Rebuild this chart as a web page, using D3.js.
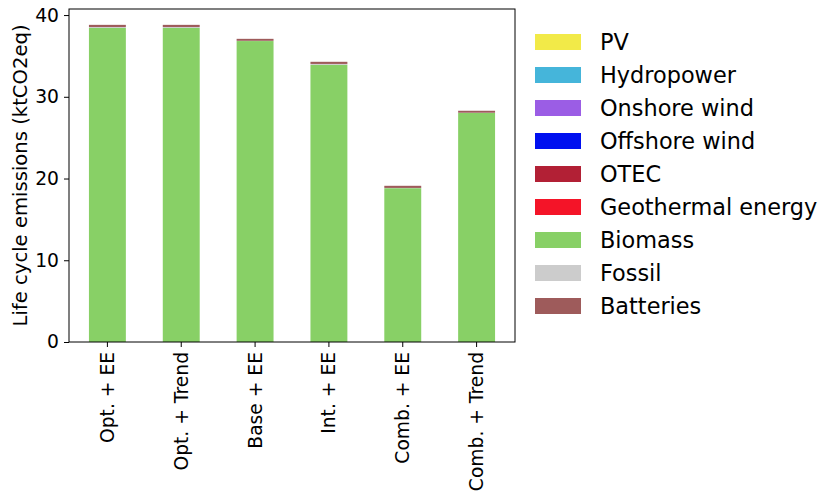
<!DOCTYPE html>
<html lang="en">
<head>
<meta charset="UTF-8">
<script src="https://cdn.jsdelivr.net/npm/d3@7"></script>
<style>
  body { margin: 0; background: #fff; }
  text { font-family: "DejaVu Sans", sans-serif; fill: #000; }
</style>
</head>
<body>
<script>
// scenarios on the x axis
var scenarios = ["Opt. + EE", "Opt. + Trend", "Base + EE", "Int. + EE", "Comb. + EE", "Comb. + Trend"];

// emissions per source, ktCO2eq (stacked bottom to top in this order)
var pv         = [0, 0, 0, 0, 0, 0];
var hydropower = [0, 0, 0, 0, 0, 0];
var onshore    = [0, 0, 0, 0, 0, 0];
var offshore   = [0, 0, 0, 0, 0, 0];
var otec       = [0, 0, 0, 0, 0, 0];
var geothermal = [0, 0, 0, 0, 0, 0];
var biomass    = [38.42, 38.42, 36.82, 33.9, 18.82, 28.02];
var fossil     = [0.12, 0.12, 0.03, 0.12, 0.03, 0.03];
var batteries  = [0.26, 0.26, 0.24, 0.26, 0.26, 0.24];

var sources = ["PV", "Hydropower", "Onshore wind", "Offshore wind", "OTEC", "Geothermal energy", "Biomass", "Fossil", "Batteries"];
var colors = ["#f2ea48", "#45b5da", "#9b5de5", "#0010f0", "#b22035", "#f41428", "#88d066", "#cccccc", "#9e5b5b"];
var seriesValues = [pv, hydropower, onshore, offshore, otec, geothermal, biomass, fossil, batteries];
var yTicks = [0, 10, 20, 30, 40];

var W = 821, H = 495;
var margin = {top: 9, right: 306, bottom: 153, left: 69};
var width = W - margin.left - margin.right,
    height = H - margin.top - margin.bottom;

var table = scenarios.map(function(s, i) {
    var row = {scenario: s};
    sources.forEach(function(src, j) { row[src] = seriesValues[j][i]; });
    return row;
});
var stacked = d3.stack().keys(sources)(table);

var totals = table.map(function(r) { return d3.sum(sources, function(k) { return r[k]; }); });
var yMax = d3.max(totals) * 1.05;

var svg = d3.select("body").append("svg")
    .attr("width", W)
    .attr("height", H);
var g = svg.append("g")
    .attr("transform", "translate(" + margin.left + "," + margin.top + ")");

var x = d3.scaleBand()
    .domain(scenarios)
    .range([0, width])
    .paddingInner(0.5)
    .paddingOuter(0.27);

var y = d3.scaleLinear()
    .domain([0, yMax])
    .range([height, 0]);

g.selectAll("g.layer")
    .data(stacked)
    .enter().append("g")
    .attr("class", "layer")
    .attr("fill", function(d, i) { return colors[i]; })
    .selectAll("rect")
    .data(function(d) { return d; })
    .enter().append("rect")
    .attr("x", function(d) { return x(d.data.scenario); })
    .attr("y", function(d) { return y(d[1]); })
    .attr("width", x.bandwidth())
    .attr("height", function(d) { return Math.max(0, y(d[0]) - y(d[1])); });

// axes
var yAxis = d3.axisLeft(y).tickValues(yTicks).tickSize(5).tickPadding(5);
var gy = g.append("g").call(yAxis);
gy.selectAll("text").style("font-size", "18.7px");

var xAxis = d3.axisBottom(x).tickSize(5).tickPadding(5);
var gx = g.append("g").attr("transform", "translate(0," + height + ")").call(xAxis);
gx.selectAll("text")
    .style("font-size", "18.7px")
    .attr("text-anchor", "end")
    .attr("dy", "0.35em")
    .attr("transform", "translate(0,5) rotate(-90)")
    .attr("x", -5)
    .attr("y", 0);

svg.selectAll(".domain").remove();
g.append("rect")
    .attr("width", width).attr("height", height)
    .attr("fill", "none").attr("stroke", "#000").attr("stroke-width", 1);
svg.selectAll(".tick line").attr("stroke", "#000");

g.append("text")
    .attr("transform", "translate(-42," + (height / 2) + ") rotate(-90)")
    .attr("text-anchor", "middle")
    .style("font-size", "19.6px")
    .text("Life cycle emissions (ktCO2eq)");

// legend
var legend = svg.append("g").attr("transform", "translate(535,42)");
var items = legend.selectAll("g")
    .data(sources)
    .enter().append("g")
    .attr("transform", function(d, i) { return "translate(0," + (i * 33) + ")"; });
items.append("rect")
    .attr("x", 0).attr("y", -8)
    .attr("width", 46).attr("height", 16)
    .attr("fill", function(d, i) { return colors[i]; });
items.append("text")
    .attr("x", 65).attr("y", 0)
    .attr("dy", "0.35em")
    .style("font-size", "22.4px")
    .text(function(d) { return d; });
</script>
</body>
</html>
